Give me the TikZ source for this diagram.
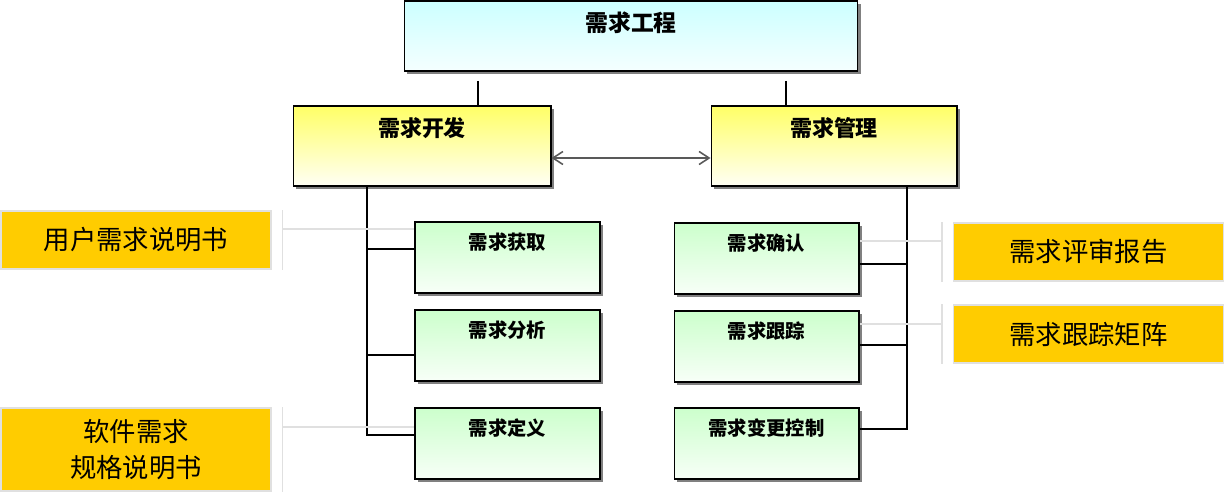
\documentclass[tikz,border=0pt]{standalone}
\usepackage{fontspec}
\setmainfont{Noto Sans CJK SC}
\usetikzlibrary{arrows.meta}
\usetikzlibrary{shadows}
\usetikzlibrary{calc}
\definecolor{docfill}{HTML}{FFCC00}

\begin{document}
\begin{tikzpicture}
	[x=0.02cm, y=-0.02cm,
	box/.style={draw=black, line width=0.6pt, inner sep=0pt, align=center,
		drop shadow={shadow xshift=0.06cm, shadow yshift=-0.06cm, fill=black!50, opacity=1}},
	topbox/.style={box, top color=cyan!20, bottom color=cyan!4, minimum width=9.08cm,
		text height=0.61cm, text depth=0.79cm, font=\bfseries\fontsize{13}{15}\selectfont},
	devbox/.style={box, top color=yellow!60, bottom color=yellow!4,
		text height=0.61cm, text depth=0.99cm, font=\bfseries\fontsize{12.5}{15}\selectfont},
	actbox/.style={box, top color=green!20, bottom color=green!3, minimum width=3.7cm,
		text height=0.55cm, text depth=0.87cm, font=\bfseries\fontsize{11}{13}\selectfont},
	doc/.style={draw=black!12, fill=docfill, line width=0.6pt, minimum width=5.4cm, align=center,
		font=\fontsize{15}{20}\selectfont},
	note/.style={draw=black!12, line width=0.6pt},
	link/.style={draw=black, line width=0.6pt},
	both/.style={{Straight Barb[length=2mm,width=2.6mm]}-{Straight Barb[length=2mm,width=2.6mm]}, draw=black!65, line width=0.9pt}]

	\useasboundingbox (0,0) rectangle (1226,493);

	%Top level
	\node[topbox] (eng) at (631,36) {需求工程};
	\node[devbox, minimum width=5.16cm] (dev) at (422,146) {需求开发};
	\node[devbox, minimum width=4.92cm] (mgmt) at (834,146) {需求管理};

	%Activities
	\node[actbox] (acq) at (507.5,257.5) {需求获取};
	\node[actbox] (ana) at (507.5,345.5) {需求分析};
	\node[actbox] (def) at (507.5,443.5) {需求定义};
	\node[actbox] (conf) at (766.5,258.5) {需求确认};
	\node[actbox] (trace) at (766.5,346.5) {需求跟踪};
	\node[actbox] (chg) at (766.5,443.5) {需求变更控制};

	%Documents
	\node[doc, minimum height=1.16cm] (urs) at (136,240) {用户需求说明书};
	\node[doc, minimum height=1.66cm] (srs) at (136,449.5) {软件需求\\规格说明书};
	\node[doc, minimum height=1.16cm] (rev) at (1088.5,252) {需求评审报告};
	\node[doc, minimum height=1.16cm] (mat) at (1088.5,334) {需求跟踪矩阵};

	%Tree
	\coordinate (engL) at (478,81);
	\coordinate (engR) at (786,81);
	\draw[link] (engL) -- (engL |- dev.north);
	\draw[link] (engR) -- (engR |- mgmt.north);
	\draw[both] ($(dev.east)+(0,12)$) -- ($(mgmt.west)+(0,12)$);

	\coordinate (devT) at (367,186);
	\draw[link] ($(def.west)+(0,-8.5)$) -| (devT);
	\draw[link] ($(acq.west)+(0,-8.5)$) -| (devT);
	\draw[link] ($(ana.west)+(0,9.5)$) -| (devT);

	\coordinate (mgmtT) at (907,186);
	\draw[link] ($(conf.east)+(0,5.5)$) -| (mgmtT);
	\draw[link] ($(trace.east)+(0,-1.5)$) -| (mgmtT);
	\draw[link] ($(chg.east)+(0,-14.5)$) -| (mgmtT);

	%Notes
	\draw[note] ($(urs.north east)+(11,0)$) -- ($(urs.south east)+(11,0)$);
	\draw[note] ($(urs.east)+(11,-11)$) -- ($(acq.west)+(0,-28.5)$);
	\draw[note] ($(srs.north east)+(11,0)$) -- ($(srs.south east)+(11,0)$);
	\draw[note] ($(srs.east)+(11,-22.5)$) -- ($(def.west)+(0,-16.5)$);
	\draw[note] ($(rev.north west)+(-11,0)$) -- ($(rev.south west)+(-11,0)$);
	\draw[note] ($(rev.west)+(-11,-11)$) -- ($(conf.east)+(0,-17.5)$);
	\draw[note] ($(mat.north west)+(-11,0)$) -- ($(mat.south west)+(-11,0)$);
	\draw[note] ($(mat.west)+(-11,-10)$) -- ($(trace.east)+(0,-22.5)$);
\end{tikzpicture}
\end{document}
